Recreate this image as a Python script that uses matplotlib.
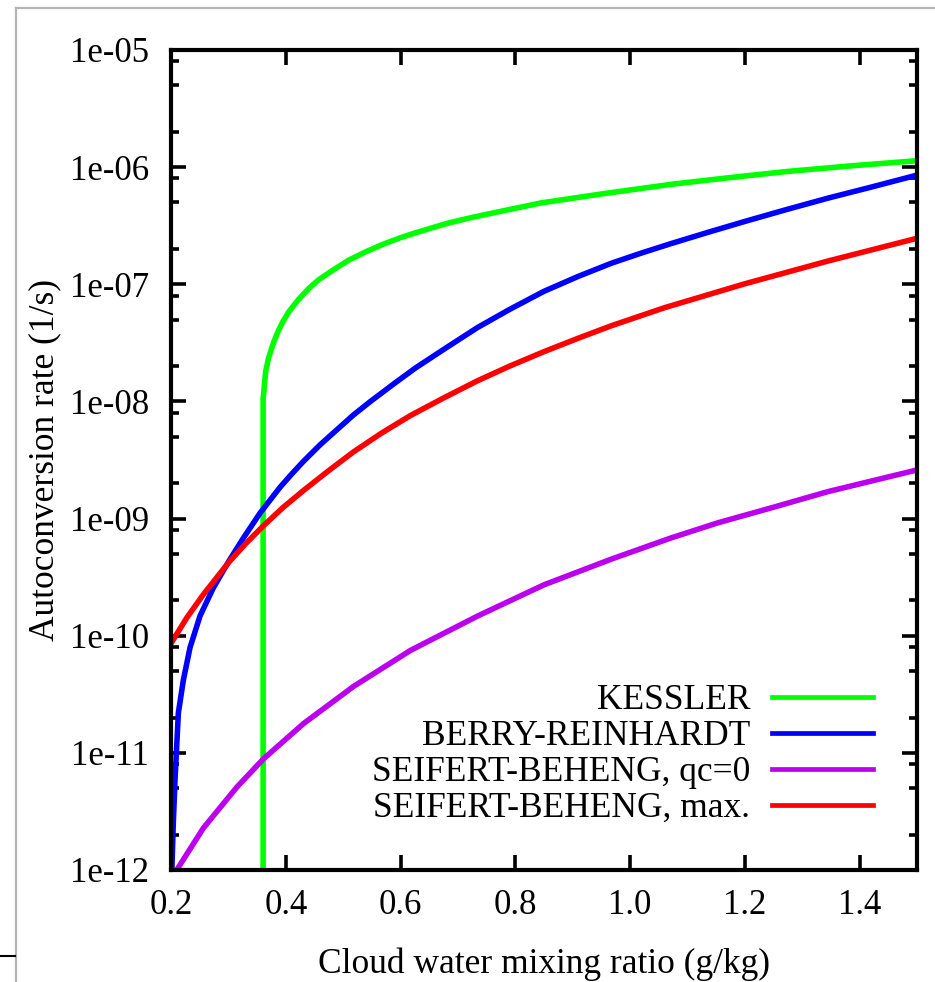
import numpy as np
import matplotlib.pyplot as plt
from matplotlib.ticker import FixedLocator, LogLocator, NullFormatter
from matplotlib.lines import Line2D

plt.rcParams['font.family'] = ['Liberation Serif', 'DejaVu Serif']

# Values (x in g/kg, rate in 1/s)
kessler_x = [0.3605, 0.3605, 0.365, 0.37, 0.375, 0.38, 0.387, 0.395, 0.405, 0.422, 0.44, 0.457,
             0.48, 0.51, 0.54, 0.568, 0.6, 0.626, 0.68, 0.72, 0.78, 0.845, 0.95, 1.072,
             1.17, 1.275, 1.39, 1.5]
kessler_y = [1e-14, 1.05e-8, 1.8e-8, 2.35e-8, 2.8e-8, 3.3e-8, 4.0e-8, 4.8e-8, 5.8e-8, 7.4e-8, 9.2e-8, 1.09e-7,
             1.3e-7, 1.61e-7, 1.9e-7, 2.18e-7, 2.5e-7, 2.75e-7, 3.3e-7, 3.68e-7, 4.25e-7, 4.95e-7, 5.9e-7, 7.14e-7,
             8.1e-7, 9.2e-7, 1.03e-6, 1.135e-6]

berry_x = [0.2, 0.2015, 0.204, 0.207, 0.2128, 0.2215, 0.2332, 0.2507, 0.2739, 0.3001, 0.3263,
           0.3555, 0.3904, 0.41, 0.4311, 0.46, 0.4894, 0.518, 0.5476, 0.588, 0.626, 0.68, 0.734,
           0.79, 0.85, 0.91, 0.967, 1.02, 1.072, 1.135, 1.2, 1.27, 1.345, 1.42, 1.5]
berry_y = [1e-14, 1e-12, 2.5e-12, 5.9e-12, 2.19e-11, 4.17e-11, 7.94e-11, 1.48e-10, 2.57e-10, 4.27e-10, 6.84e-10,
           1.12e-9, 1.86e-9, 2.39e-9, 3.09e-9, 4.27e-9, 5.75e-9, 7.67e-9, 1.0e-8, 1.41e-8, 1.93e-8, 2.88e-8, 4.27e-8,
           6.1e-8, 8.71e-8, 1.17e-7, 1.51e-7, 1.85e-7, 2.23e-7, 2.77e-7, 3.44e-7, 4.31e-7, 5.44e-7, 6.75e-7, 8.55e-7]

sb0_x = [0.2, 0.21, 0.2564, 0.3148, 0.3613, 0.4311, 0.5184, 0.6175, 0.734, 0.85, 0.967,
         1.072, 1.153, 1.25, 1.345, 1.5]
sb0_y = [8.3e-13, 1.0e-12, 2.28e-12, 5.1e-12, 8.9e-12, 1.78e-11, 3.7e-11, 7.5e-11, 1.47e-10, 2.72e-10, 4.5e-10,
         6.85e-10, 9.2e-10, 1.25e-9, 1.7e-9, 2.6e-9]

sbmax_x = [0.2, 0.2274, 0.2564, 0.3001, 0.33, 0.3613, 0.395, 0.4311, 0.475, 0.5184, 0.567, 0.6175,
           0.675, 0.734, 0.79, 0.85, 0.91, 0.967, 1.06, 1.2, 1.345, 1.5]
sbmax_y = [8.6e-11, 1.42e-10, 2.25e-10, 4.2e-10, 6.1e-10, 8.7e-10, 1.24e-9, 1.74e-9, 2.57e-9, 3.72e-9, 5.37e-9,
           7.59e-9, 1.07e-8, 1.5e-8, 2.0e-8, 2.66e-8, 3.47e-8, 4.42e-8, 6.31e-8, 1.01e-7, 1.58e-7, 2.47e-7]

labels = ['KESSLER', 'BERRY-REINHARDT', 'SEIFERT-BEHENG, qc=0', 'SEIFERT-BEHENG, max.']
colors = ['#00ff00', '#0000ff', '#bb00ee', '#ff0000']

xticks = [0.2, 0.4, 0.6, 0.8, 1.0, 1.2, 1.4]
yticks = [1e-12, 1e-11, 1e-10, 1e-09, 1e-08, 1e-07, 1e-06, 1e-05]
ytick_labels = ['1e-12', '1e-11', '1e-10', '1e-09', '1e-08', '1e-07', '1e-06', '1e-05']

fig = plt.figure(figsize=(9.35, 9.82), dpi=100)
ax = fig.add_axes([171 / 935, 1 - 870 / 982, 746 / 935, 820 / 982])

series = [(kessler_x, kessler_y), (berry_x, berry_y), (sb0_x, sb0_y), (sbmax_x, sbmax_y)]
for (xs, ys), lab, col in zip(series, labels, colors):
    ax.plot(xs, ys, color=col, lw=4.0, label=lab, solid_joinstyle='round')

ax.set_yscale('log')
ax.set_xlim(0.2, 1.5)
ax.set_ylim(1e-12, 1e-5)

ax.xaxis.set_major_locator(FixedLocator(xticks))
ax.set_xticklabels(['%.1f' % v for v in xticks])
ax.yaxis.set_major_locator(FixedLocator(yticks))
ax.set_yticklabels(ytick_labels)
ax.yaxis.set_minor_locator(LogLocator(base=10, subs=(2, 5, 8), numticks=30))
ax.yaxis.set_minor_formatter(NullFormatter())

ax.tick_params(which='both', direction='in', top=True, right=True, width=2.6, colors='black')
ax.tick_params(which='major', length=11, labelsize=25)
ax.tick_params(axis='x', which='major', pad=14)
ax.tick_params(axis='y', which='major', pad=16)
ax.tick_params(which='minor', length=6)
for sp in ax.spines.values():
    sp.set_linewidth(3)

ax.set_xlabel('Cloud water mixing ratio (g/kg)', fontsize=25.5, labelpad=18)
ax.set_ylabel('Autoconversion rate (1/s)', fontsize=25.5, labelpad=6)

leg = ax.legend(loc='lower right', bbox_to_anchor=(0.941, 0.055), frameon=False, markerfirst=False,
                handlelength=2.85, handletextpad=0.62, labelspacing=0.08, fontsize=25.5,
                borderpad=0, borderaxespad=0)
for ln in leg.get_lines():
    ln.set_linewidth(3.4)

# thin frame lines around the picture
fig.add_artist(Line2D([16 / 935, 16 / 935], [0, 1 - 8 / 982], color='#b4b4b4', lw=1.6, transform=fig.transFigure))
fig.add_artist(Line2D([16 / 935, 1], [1 - 8 / 982, 1 - 8 / 982], color='#b4b4b4', lw=1.6, transform=fig.transFigure))
fig.add_artist(Line2D([0, 15 / 935], [1 - 956 / 982, 1 - 956 / 982], color='black', lw=1.5, transform=fig.transFigure))

fig.savefig('out.png', dpi=100)
